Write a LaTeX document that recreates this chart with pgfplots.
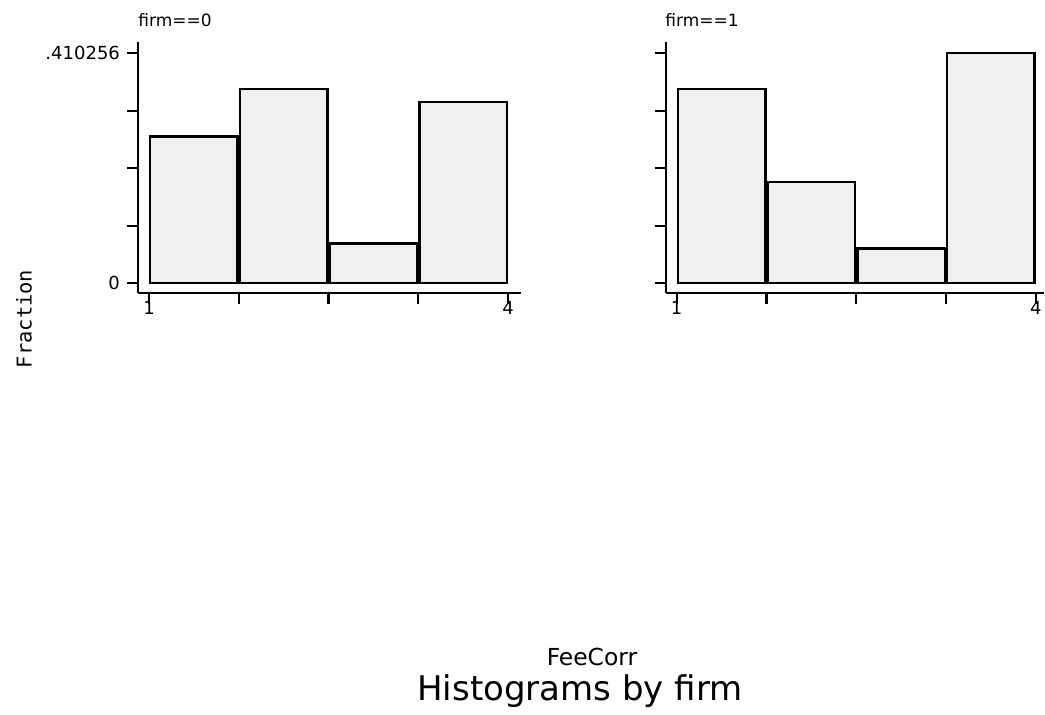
\documentclass[border=0pt]{standalone}
\usepackage{fontspec}
\setmainfont{DejaVu Sans}
\newfontfamily\monofont{DejaVu Sans Mono}
\usepackage{pgfplots}
\pgfplotsset{compat=1.18}
\definecolor{barfill}{RGB}{240,240,240}
\pgfplotsset{
  panel/.style={
    scale only axis, height=125.5pt, anchor=south west,
    axis x line=bottom, axis y line=left,
    axis line style={-, line width=1.2pt, black},
    ymin=-0.0173, ymax=0.4304,
    xtick={1,1.75,2.5,3.25,4},
    ytick={0,0.102564,0.205128,0.307692,0.410256},
    tick align=outside,
    major tick length=5.5pt,
    every tick/.style={black, line width=1.2pt},
    tick label style={font=\fontsize{9}{11}\selectfont},
    x tick label style={yshift=5pt},
    xticklabels={1,,,,4},
    clip=false,
  },
  bars/.style={ybar interval, fill=barfill, draw=black, line width=1.2pt, bar interval width=0.975},
}
\begin{document}
\begin{tikzpicture}[x=1pt,y=1pt]
\useasboundingbox (0,0) rectangle (522.5,357.5);
\begin{axis}[panel, at={(69pt,211pt)}, width=191.5pt, xmin=0.9081, xmax=4.1086,
  yticklabels={0,,,,{.410256}}]
\addplot[bars] coordinates {(1,0.2615) (1.75,0.3466) (2.5,0.0713) (3.25,0.3229) (4,0.3229)};
\end{axis}
\begin{axis}[panel, at={(332.85pt,211pt)}, width=189.15pt, xmin=0.9081, xmax=4.069,
  yticklabels={}]
\addplot[bars] coordinates {(1,0.3466) (1.75,0.1802) (2.5,0.0624) (3.25,0.4103) (4,0.4103)};
\end{axis}
\node[anchor=base west, font=\fontsize{8.5}{10}\selectfont, inner sep=0pt] at (69,344.15) {firm==0};
\node[anchor=base west, font=\fontsize{8.5}{10}\selectfont, inner sep=0pt] at (332.5,344.15) {firm==1};
\node[rotate=90, font=\monofont\fontsize{10.2}{12}\selectfont, inner sep=0pt] at (12,198) {Fraction};
\node[anchor=base, font=\fontsize{11.7}{14}\selectfont, inner sep=0pt] at (296,24.5) {FeeCorr};
\node[anchor=base, font=\fontsize{17}{20}\selectfont, inner sep=0pt] at (290,7.15) {Histograms by firm};
\end{tikzpicture}
\end{document}
